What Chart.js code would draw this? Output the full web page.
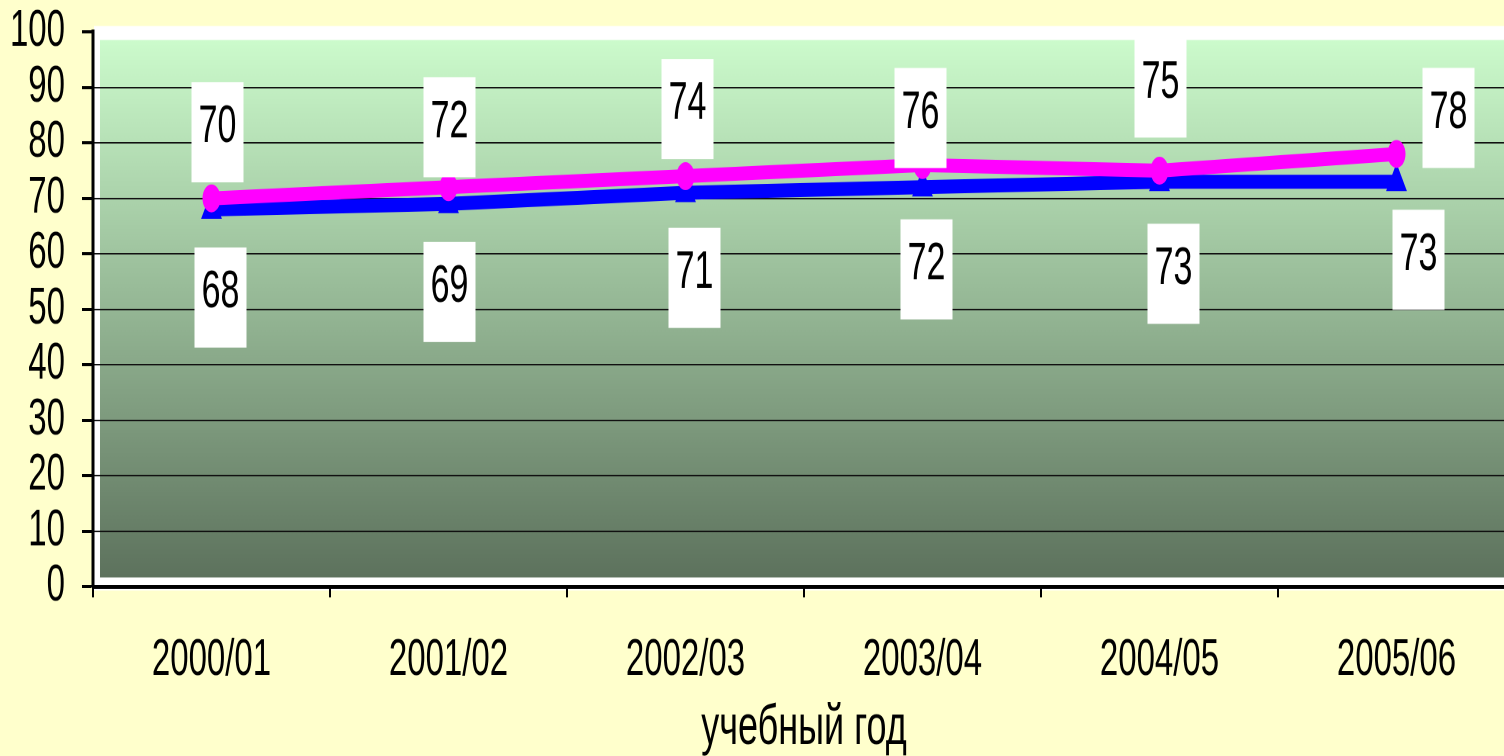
<!DOCTYPE html>
<html>
<head>
<meta charset="utf-8">
<script src="https://cdn.jsdelivr.net/npm/chart.js@4"></script>
<style>
  html, body { margin: 0; padding: 0; overflow: hidden; background: #FFFFCC; }
  #wrap { position: absolute; left: 0; top: 0; width: 1530px; height: 487.7px;
          transform: scaleY(1.55); transform-origin: 0 0; }
</style>
</head>
<body>
<div id="wrap"><canvas id="Chart"></canvas></div>
<script>
// the original picture is stretched vertically, so we draw flatter and stretch with css
const STRETCH = 1.55;

let years = ['2000/01', '2001/02', '2002/03', '2003/04', '2004/05', '2005/06'];
let pinkValues = [70, 72, 74, 76, 75, 78];
let blueValues = [68, 69, 71, 72, 73, 73];
let yTicks = [0, 10, 20, 30, 40, 50, 60, 70, 80, 90, 100];
let axisTitle = 'учебный год';

// where each white label box sits relative to its point (reference pixels)
let pinkLabelOffsets = [[6, -66], [1, -60], [2, -67], [-2, -47], [1, -83], [52, -36]];
let blueLabelOffsets = [[9, 88], [1, 88], [9, 85], [4, 82], [14, 92], [22, 78]];

let font = '"Liberation Sans", Arial, sans-serif';

let plotBackground = {
    id: 'plotBackground',
    beforeDraw(chart) {
        let a = chart.chartArea;
        let ctx = chart.ctx;
        ctx.save();
        // white frame
        ctx.fillStyle = '#ffffff';
        ctx.fillRect(a.left + 1, a.top - 6 / STRETCH, a.right - a.left + 20, a.bottom - a.top + 10 / STRETCH);
        // green gradient
        let gTop = a.top + 8 / STRETCH;
        let gBottom = a.bottom - 9 / STRETCH;
        let grad = ctx.createLinearGradient(0, gTop, 0, gBottom);
        grad.addColorStop(0, '#CCFBCC');
        grad.addColorStop(1, '#5D725D');
        ctx.fillStyle = grad;
        ctx.fillRect(a.left + 7, gTop, a.right - a.left + 20, gBottom - gTop);
        ctx.restore();
    }
};

let boxLabels = {
    id: 'boxLabels',
    afterDatasetsDraw(chart) {
        let ctx = chart.ctx;
        let offsets = [pinkLabelOffsets, blueLabelOffsets];
        chart.data.datasets.forEach((ds, i) => {
            let meta = chart.getDatasetMeta(i);
            meta.data.forEach((pt, j) => {
                let cx = pt.x + offsets[i][j][0];
                let cy = pt.y + offsets[i][j][1] / STRETCH;
                let w = 52, h = 100 / STRETCH;
                ctx.save();
                ctx.fillStyle = '#ffffff';
                ctx.fillRect(cx - w / 2, cy - h / 2, w, h);
                ctx.fillStyle = '#000000';
                ctx.font = '34px ' + font;
                ctx.textAlign = 'center';
                ctx.textBaseline = 'middle';
                ctx.fillText(String(ds.data[j]), cx, cy - 3);
                ctx.restore();
            });
        });
    }
};

let chartData = {
    type: 'line',
    data: {
        labels: years,
        datasets: [
            {
                label: 'pink',
                data: pinkValues,
                borderColor: '#FF00FF',
                backgroundColor: '#FF00FF',
                borderWidth: 9,
                pointStyle: 'circle',
                pointRadius: 9,
                pointBorderWidth: 0,
                tension: 0
            },
            {
                label: 'blue',
                data: blueValues,
                borderColor: '#0000FF',
                backgroundColor: '#0000FF',
                borderWidth: 9,
                pointStyle: 'triangle',
                pointRadius: 12,
                pointBorderWidth: 0,
                tension: 0
            }
        ]
    },
    options: {
        responsive: true,
        maintainAspectRatio: false,
        animation: false,
        devicePixelRatio: 2,
        layout: { padding: { top: 20.6, right: 15, bottom: 0, left: 0 } },
        plugins: { legend: { display: false }, tooltip: { enabled: false } },
        scales: {
            x: {
                offset: true,
                grid: { offset: true, drawOnChartArea: false, tickLength: 7, tickColor: '#000', tickWidth: 2 },
                border: { color: '#000', width: 2.5 },
                ticks: { color: '#000', font: { family: font, size: 33 }, padding: 21, maxRotation: 0 },
                title: { display: true, text: axisTitle, color: '#000', font: { family: font, size: 36, lineHeight: 1 }, padding: 0 },
                afterFit(scale) { scale.height = 487.7 - 378; }
            },
            y: {
                min: 0,
                max: 100,
                afterBuildTicks(scale) { scale.ticks = yTicks.map(v => ({ value: v })); },
                grid: {
                    color: ctx => (ctx.tick && (ctx.tick.value === 0 || ctx.tick.value === 100)) ? 'rgba(0,0,0,0)' : '#111',
                    lineWidth: 1,
                    tickLength: 11,
                    tickColor: '#000',
                    tickWidth: 2
                },
                border: { color: '#000', width: 3 },
                ticks: { color: '#000', font: { family: font, size: 33 }, padding: 17, autoSkip: false, stepSize: 10 },
                afterFit(scale) {
                    scale.width = 93;
                    scale.paddingTop = 0;
                    scale.paddingBottom = 0;
                }
            }
        }
    },
    plugins: [plotBackground, boxLabels]
};

let presentdata = new Chart(document.getElementById('Chart'), chartData);
</script>
</body>
</html>
